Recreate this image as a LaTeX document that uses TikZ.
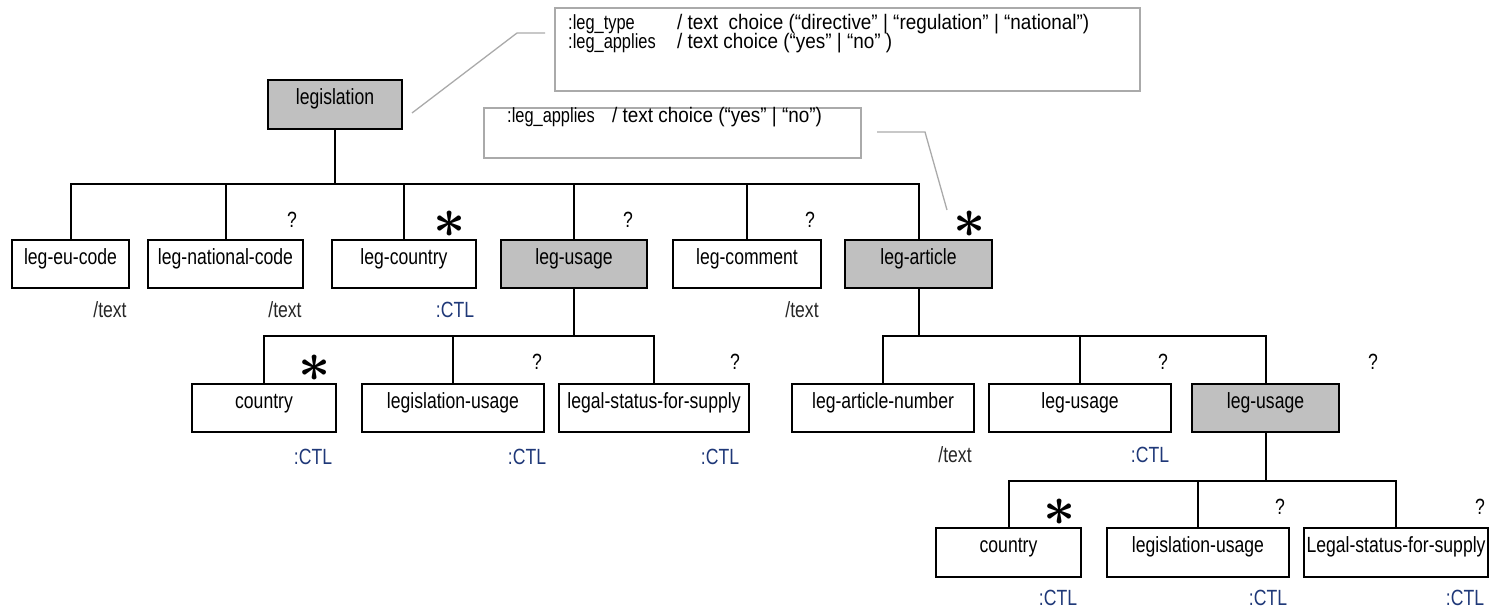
\documentclass[tikz,border=0pt]{standalone}
\usepackage{fontspec}
\setmainfont{Liberation Sans}[FakeStretch=0.8]
\newfontfamily\notefont{Liberation Sans}[FakeStretch=0.9]
\definecolor{boxgrey}{RGB}{192,192,192}
\definecolor{ctlblue}{RGB}{31,56,120}
\definecolor{notegrey}{RGB}{170,170,170}
\begin{document}
\begin{tikzpicture}[x=1pt,y=-1pt,
  every node/.style={font=\fontsize{22}{26}\selectfont},
  elem/.style={draw=black, line width=1.6pt, rectangle, inner sep=0pt,
    minimum height=48pt, text height=24pt, text depth=24pt},
  grp/.style={elem, fill=boxgrey},
  tline/.style={line width=2pt, black},
  mk/.style={inner sep=0pt},
  star/.style={inner sep=0pt},
  tlabel/.style={inner sep=0pt, text=black!85},
  ctl/.style={inner sep=0pt, text=ctlblue},
  note/.style={draw=notegrey, line width=1.3pt, rectangle, inner sep=0pt},
  ntext/.style={inner sep=0pt, anchor=west, font=\fontsize{20.5}{24}\selectfont},
  nval/.style={inner sep=0pt, anchor=west, font=\notefont\fontsize{21}{24}\selectfont},
  gline/.style={draw=notegrey, line width=1.3pt}
]
\useasboundingbox (0,0) rectangle (1494,610);

% notes
\node[note, minimum width=585pt, minimum height=83pt] (note1) at (847.5,49.5) {};
\node[ntext] (n1a) at (568,24) {:leg\_type};
\node[nval] (n1b) at (677,24) {/ text\ \ choice (“directive” | “regulation” | “national”)};
\node[ntext] (n1c) at (568,43) {:leg\_applies};
\node[nval] (n1d) at (677,43) {/ text choice (“yes” | “no” )};

\node[note, minimum width=377pt, minimum height=50pt] (note2) at (672.5,133) {};
\node[ntext] (n2a) at (507,117) {:leg\_applies};
\node[nval] (n2b) at (612,117) {/ text choice (“yes” | “no”)};

% root
\node[grp, minimum width=134pt, minimum height=49pt] (root) at (335,104.5) {legislation};

% level 1
\node[elem, minimum width=117pt] (eu) at (70.5,264) {leg-eu-code};
\node[elem, minimum width=155pt] (nat) at (225.5,264) {leg-national-code};
\node[elem, minimum width=144pt] (cty) at (404,264) {leg-country};
\node[grp, minimum width=146pt] (usg) at (574,264) {leg-usage};
\node[elem, minimum width=148pt] (cmt) at (747,264) {leg-comment};
\node[grp, minimum width=147pt] (art) at (918.5,264) {leg-article};

% level 2
\node[elem, minimum width=144pt] (u1) at (264,408) {country};
\node[elem, minimum width=182pt] (u2) at (453,408) {legislation-usage};
\node[elem, minimum width=190pt] (u3) at (654,408) {legal-status-for-supply};
\node[elem, minimum width=182pt] (a1) at (883,408) {leg-article-number};
\node[elem, minimum width=182pt] (a2) at (1080,408) {leg-usage};
\node[grp, minimum width=147pt] (a3) at (1265.5,408) {leg-usage};

% level 3
\node[elem, minimum width=145pt, minimum height=49pt] (b1) at (1008.5,552.5) {country};
\node[elem, minimum width=182pt, minimum height=49pt] (b2) at (1198,552.5) {legislation-usage};
\node[elem, minimum width=184pt, minimum height=49pt] (b3) at (1396,552.5) {Legal-status-for-supply};

% buses
\coordinate (bus0) at (0,184);
\coordinate (bus1) at (0,336);
\coordinate (bus2) at (0,481);

\foreach \c in {eu,nat,cty,usg,cmt,art}
  \draw[tline] (root.south) -- (root.south |- bus0) -| (\c.north);
\foreach \c in {u1,u2,u3}
  \draw[tline] (usg.south) -- (usg.south |- bus1) -| (\c.north);
\foreach \c in {a1,a2,a3}
  \draw[tline] (art.south) -- (art.south |- bus1) -| (\c.north);
\foreach \c in {b1,b2,b3}
  \draw[tline] (a3.south) -- (a3.south |- bus2) -| (\c.north);

% note connectors
\coordinate (c1) at (412,113);
\coordinate (c2) at (517,33);
\coordinate (c3) at (545,33);
\draw[gline] (c1) -- (c2) -- (c3);
\coordinate (d1) at (877,132);
\coordinate (d2) at (925,132);
\coordinate (d3) at (947,210);
\draw[gline] (d1) -- (d2) -- (d3);

% multiplicity markers
\node[mk] (m1) at (292,220) {?};
\node[star] (m2) at (450,224) {\scalebox{2.7}{\boldmath$\ast$}};
\node[mk] (m3) at (628,220) {?};
\node[mk] (m4) at (810,220) {?};
\node[star] (m5) at (970,224) {\scalebox{2.7}{\boldmath$\ast$}};
\node[star] (m6) at (315,368) {\scalebox{2.7}{\boldmath$\ast$}};
\node[mk] (m7) at (537,362) {?};
\node[mk] (m8) at (735,362) {?};
\node[mk] (m9) at (1163,362) {?};
\node[mk] (m10) at (1373,362) {?};
\node[star] (m11) at (1060,512) {\scalebox{2.7}{\boldmath$\ast$}};
\node[mk] (m12) at (1280,507) {?};
\node[mk] (m13) at (1480,507) {?};

% type labels
\node[tlabel] (t1) at (110,310) {/text};
\node[tlabel] (t2) at (285,310) {/text};
\node[ctl] (t3) at (455,310) {:CTL};
\node[tlabel] (t4) at (802,310) {/text};
\node[ctl] (t5) at (313,457) {:CTL};
\node[ctl] (t6) at (527,457) {:CTL};
\node[ctl] (t7) at (720,457) {:CTL};
\node[tlabel] (t8) at (955,455) {/text};
\node[ctl] (t9) at (1150,455) {:CTL};
\node[ctl] (t10) at (1058,598) {:CTL};
\node[ctl] (t11) at (1268,598) {:CTL};
\node[ctl] (t12) at (1465,598) {:CTL};
\end{tikzpicture}
\end{document}
